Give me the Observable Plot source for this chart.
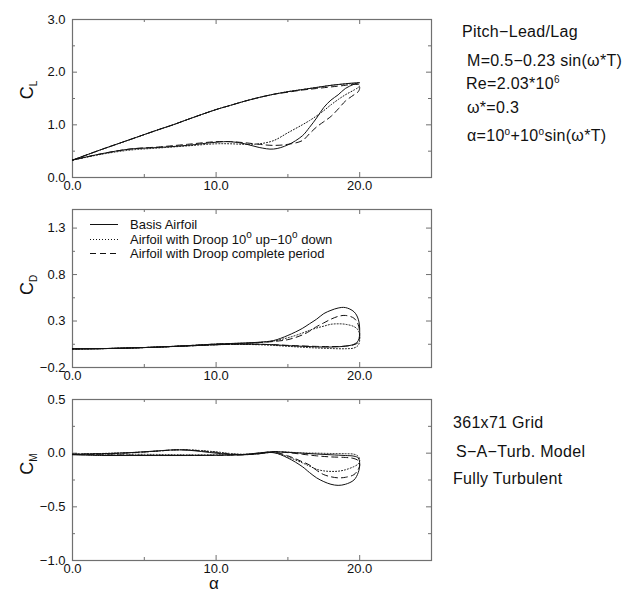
<!DOCTYPE html>
<html><head><meta charset="utf-8">
<script src="https://cdn.jsdelivr.net/npm/d3@7"></script>
<script src="https://cdn.jsdelivr.net/npm/@observablehq/plot@0.6"></script>
<style>
body{margin:0;background:#fff;}
#wrap{position:relative;width:623px;height:592px;font-family:"Liberation Sans",Arial,sans-serif;color:#111;overflow:hidden;}
.p{position:absolute;left:0;}
.p svg text{letter-spacing:0.8px;}
.t{position:absolute;white-space:nowrap;transform:translateY(-50%);font-size:16px;letter-spacing:0.3px;}
.yl{position:absolute;transform:translate(-50%,-50%) rotate(-90deg);font-size:18px;white-space:nowrap;line-height:1;}
.yl sub{font-size:10px;vertical-align:-4px;}
.lg{position:absolute;left:90px;font-size:13px;white-space:nowrap;transform:translateY(-50%);display:flex;align-items:center;}
.lg svg{margin-right:12px;}
sup{font-size:10px;vertical-align:6px;line-height:0;}
</style></head>
<body><div id="wrap"></div>
<script>
// angle of attack along the pitching cycle (upstroke then downstroke)
const alphaPath = [0,2,4,6,7,8,10,11,12,13,14,15,16,17,18,19,19.6,19.9,20,
                   19.9,19.6,19,18.5,18,17.5,17,16.5,16,15,14,13,12,11,10,8,6,4,2,0];
const seriesNames = ["Basis Airfoil","Airfoil with Droop 10° up−10° down","Airfoil with Droop complete period"];

const clBasis  = [0.33,0.53,0.72,0.91,1.0,1.1,1.29,1.37,1.45,1.52,1.58,1.63,1.67,1.71,1.75,1.78,1.795,1.8,1.8,
                  1.795,1.77,1.69,1.57,1.47,1.33,1.13,0.95,0.79,0.62,0.54,0.57,0.64,0.68,0.67,0.61,0.57,0.54,0.45,0.33];
const clDroopUpDown = [0.33,0.53,0.72,0.91,1.0,1.1,1.29,1.37,1.45,1.52,1.58,1.63,1.67,1.71,1.75,1.775,1.78,1.77,1.74,
                  1.71,1.66,1.57,1.48,1.38,1.27,1.17,1.08,1.0,0.85,0.7,0.64,0.63,0.64,0.64,0.6,0.56,0.52,0.44,0.33];
const clDroopFull = [0.33,0.53,0.72,0.91,1.0,1.1,1.29,1.37,1.45,1.52,1.58,1.62,1.66,1.69,1.72,1.75,1.77,1.76,1.71,
                  1.63,1.57,1.45,1.3,1.16,1.06,0.96,0.83,0.7,0.63,0.61,0.63,0.66,0.68,0.68,0.63,0.58,0.54,0.45,0.33];

const cdBasis  = [0.0,0.003,0.01,0.02,0.026,0.032,0.045,0.05,0.052,0.05,0.045,0.035,0.028,0.022,0.02,0.03,0.05,0.09,0.19,
                  0.32,0.4,0.445,0.44,0.415,0.38,0.32,0.27,0.22,0.145,0.09,0.072,0.064,0.058,0.052,0.035,0.02,0.01,0.003,0.0];
const cdDroopUpDown = [0.0,0.003,0.01,0.02,0.026,0.032,0.045,0.048,0.048,0.045,0.038,0.028,0.018,0.01,0.004,0.002,0.01,0.04,0.1,
                  0.2,0.24,0.265,0.27,0.265,0.245,0.225,0.2,0.17,0.12,0.085,0.07,0.062,0.058,0.052,0.035,0.02,0.01,0.003,0.0];
const cdDroopFull = [0.0,0.003,0.01,0.02,0.026,0.032,0.045,0.05,0.052,0.05,0.045,0.038,0.032,0.027,0.025,0.03,0.045,0.07,0.13,
                  0.26,0.33,0.36,0.35,0.32,0.28,0.24,0.19,0.15,0.1,0.08,0.068,0.06,0.057,0.052,0.035,0.02,0.01,0.003,0.0];

const cmBasis  = [-0.01,-0.005,0.005,0.022,0.03,0.028,0.0,-0.012,-0.012,0.003,0.012,0.008,0.0,-0.008,-0.015,-0.022,-0.028,-0.045,-0.1,
                  -0.18,-0.25,-0.29,-0.3,-0.29,-0.265,-0.23,-0.18,-0.125,-0.045,0.005,-0.005,-0.015,-0.018,-0.02,-0.022,-0.022,-0.022,-0.022,-0.015];
const cmDroopUpDown = [-0.01,-0.003,0.005,0.02,0.03,0.032,0.012,-0.003,-0.01,0.0,0.012,0.01,0.002,0.0,-0.003,-0.005,-0.01,-0.03,-0.07,
                  -0.1,-0.125,-0.155,-0.168,-0.17,-0.165,-0.15,-0.12,-0.09,-0.035,0.005,-0.005,-0.012,-0.015,-0.015,-0.015,-0.012,-0.01,-0.01,-0.012];
const cmDroopFull = [-0.01,-0.005,0.003,0.02,0.03,0.03,0.008,-0.008,-0.012,0.0,0.015,0.005,-0.01,-0.025,-0.035,-0.04,-0.05,-0.07,-0.11,
                  -0.15,-0.2,-0.225,-0.23,-0.22,-0.2,-0.16,-0.11,-0.08,-0.025,0.01,-0.005,-0.015,-0.018,-0.02,-0.02,-0.02,-0.018,-0.015,-0.012];

const xMajor = [0,10,20], xMinor = [5,15];
const clTicks = [0,1,2,3], clMinor = [0.5,1.5,2.5];
const cdTicks = [-0.2,0.3,0.8,1.3], cdMinor = [0.05,0.55,1.05];
const cmTicks = [-1,-0.5,0,0.5], cmMinor = [-0.75,-0.25,0.25];

const dashes = [null, "1,2", "6,4"];

function panel(top, {vals, yDomain, yMajor, yMinor, height, mt, mb}) {
  const W = 440, ml = 72, mr = 9;
  const iw = W - ml - mr, ih = height - mt - mb;
  const g = {stroke: "#707070", strokeWidth: 1};
  const marks = [
    Plot.tickX(xMajor, {x: d => d, insetTop: ih - 5, ...g}),
    Plot.tickX(xMinor, {x: d => d, insetTop: ih - 3, ...g}),
    Plot.tickX(xMajor, {x: d => d, insetBottom: ih - 5, ...g}),
    Plot.tickX(xMinor, {x: d => d, insetBottom: ih - 3, ...g}),
    Plot.tickY(yMajor, {y: d => d, insetRight: iw - 5, ...g}),
    Plot.tickY(yMinor, {y: d => d, insetRight: iw - 3, ...g}),
    Plot.tickY(yMajor, {y: d => d, insetLeft: iw - 5, ...g}),
    Plot.tickY(yMinor, {y: d => d, insetLeft: iw - 3, ...g}),
    Plot.frame({stroke: "#707070", strokeWidth: 1.2}),
    Plot.axisX(xMajor, {tickSize: 0, tickPadding: 3, tickFormat: d => d.toFixed(1), label: null, fill: "#111"}),
    Plot.axisY(yMajor, {tickSize: 0, tickPadding: 7, tickFormat: d => d.toFixed(1).replace("-", "−"), label: null, fill: "#111"})
  ];
  vals.forEach((v, i) => {
    const data = alphaPath.map((a, j) => ({alpha: a, value: v[j], series: seriesNames[i]}));
    marks.push(Plot.line(data, {x: "alpha", y: "value", curve: "catmull-rom", stroke: "#111",
      strokeWidth: 1, strokeDasharray: dashes[i]}));
  });
  const svg = Plot.plot({
    width: W, height, marginLeft: ml, marginRight: mr, marginTop: mt, marginBottom: mb,
    x: {domain: [0, 25]}, y: {domain: yDomain},
    style: {fontFamily: "Liberation Sans, Arial, sans-serif", fontSize: "13px", background: "transparent", color: "#111"},
    marks
  });
  svg.classList.add("p");
  svg.style.top = top + "px";
  document.getElementById("wrap").appendChild(svg);
}

panel(0,   {vals: [clBasis, clDroopUpDown, clDroopFull], yDomain: [0, 3], yMajor: clTicks, yMinor: clMinor, height: 200, mt: 19, mb: 23});
panel(200, {vals: [cdBasis, cdDroopUpDown, cdDroopFull], yDomain: [-0.2, 1.5], yMajor: cdTicks, yMinor: cdMinor, height: 190, mt: 9, mb: 23});
panel(390, {vals: [cmBasis, cmDroopUpDown, cmDroopFull], yDomain: [-1, 0.5], yMajor: cmTicks, yMinor: cmMinor, height: 202, mt: 9, mb: 32});

const wrap = document.getElementById("wrap");
function addHTML(html) { wrap.insertAdjacentHTML("beforeend", html); }

// axis titles
addHTML(`<div class="yl" style="left:28px;top:90px">C<sub>L</sub></div>`);
addHTML(`<div class="yl" style="left:28px;top:285px">C<sub>D</sub></div>`);
addHTML(`<div class="yl" style="left:28px;top:464px">C<sub>M</sub></div>`);
addHTML(`<div class="t" style="left:209px;top:584px;font-size:17px">α</div>`);

// legend
const legendY = [224, 239, 253];
const legendLabels = ["Basis Airfoil", "Airfoil with Droop 10<sup>o</sup> up−10<sup>o</sup> down", "Airfoil with Droop complete period"];
legendLabels.forEach((lab, i) => {
  const da = dashes[i] ? `stroke-dasharray="${dashes[i]}"` : "";
  addHTML(`<div class="lg" style="top:${legendY[i]}px"><svg width="28" height="4"><line x1="0" x2="28" y1="2" y2="2" stroke="#111" stroke-width="1" ${da}/></svg><span>${lab}</span></div>`);
});

// annotations
const notesTop = [
  ["Pitch−Lead/Lag", 462, 32],
  ["M=0.5−0.23 sin(ω*T)", 467, 61],
  ["Re=2.03*10<sup>6</sup>", 466, 84],
  ["ω*=0.3", 467, 108],
  ["α=10<sup>o</sup>+10<sup>o</sup>sin(ω*T)", 467, 136]
];
const notesBottom = [
  ["361x71 Grid", 453, 423],
  ["S−A−Turb. Model", 456, 452],
  ["Fully Turbulent", 453, 479]
];
[...notesTop, ...notesBottom].forEach(([txt, x, y]) => addHTML(`<div class="t" style="left:${x}px;top:${y}px">${txt}</div>`));
</script></body></html>
